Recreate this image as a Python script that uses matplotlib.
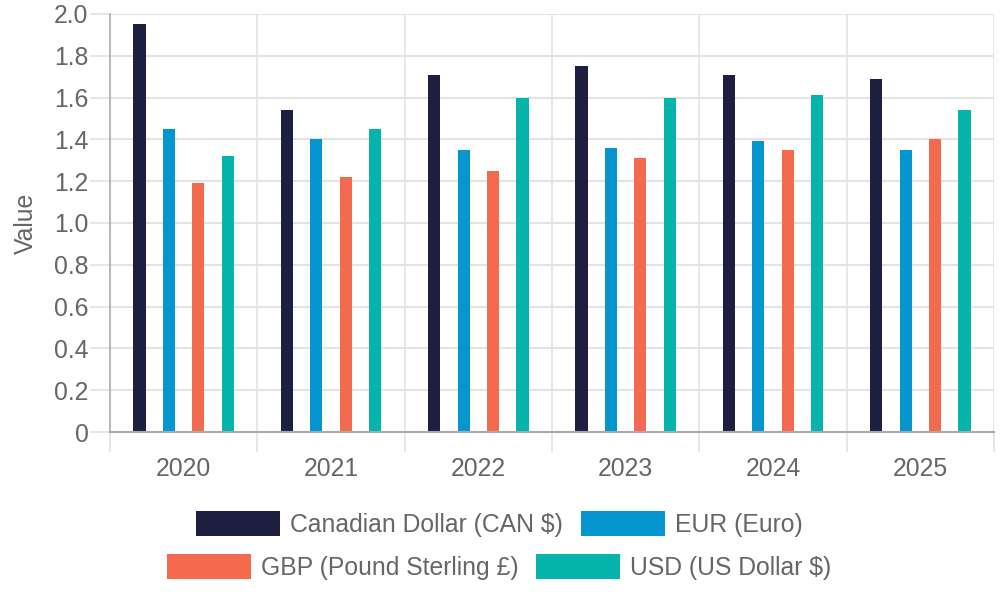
import matplotlib
matplotlib.use("Agg")
import matplotlib.pyplot as plt
import numpy as np
from matplotlib.patches import Patch

years = ["2020", "2021", "2022", "2023", "2024", "2025"]
series_names = ["Canadian Dollar (CAN $)", "EUR (Euro)", "GBP (Pound Sterling £)", "USD (US Dollar $)"]
cad = [1.95, 1.54, 1.71, 1.75, 1.71, 1.69]
eur = [1.45, 1.40, 1.35, 1.36, 1.39, 1.35]
gbp = [1.19, 1.22, 1.25, 1.31, 1.35, 1.40]
usd = [1.32, 1.45, 1.60, 1.60, 1.61, 1.54]
colors = ["#1e1e40", "#0596cf", "#f46a4e", "#05b5ab"]
y_ticks = [0, 0.2, 0.4, 0.6, 0.8, 1.0, 1.2, 1.4, 1.6, 1.8, 2.0]
y_tick_labels = ["0", "0.2", "0.4", "0.6", "0.8", "1.0", "1.2", "1.4", "1.6", "1.8", "2.0"]

plt.rcParams['font.family'] = ['Liberation Sans', 'DejaVu Sans']
text_color = "#666666"
grid_color = "#e3e3e3"
axis_color = "#aaaaaa"
fs = 17.8

fig = plt.figure(figsize=(10, 6), dpi=100)
ax = fig.add_axes([0.110, 0.28, 0.884, 0.6967])

x = np.arange(len(years))
offsets = [-0.3, -0.1, 0.1, 0.3]
bw = 0.082
for vals, off, c, name in zip([cad, eur, gbp, usd], offsets, colors, series_names):
    ax.bar(x + off, vals, width=bw, color=c, zorder=3, label=name)

ax.set_xlim(-0.5, len(years) - 0.5)
ax.set_ylim(0, 2.0)
ax.set_yticks(y_ticks)
ax.set_yticklabels(y_tick_labels)
ax.set_xticks(x)
ax.set_xticklabels(years)
ax.set_xticks(np.arange(-0.5, len(years)), minor=True)

for s in ["top", "right"]:
    ax.spines[s].set_visible(False)
ax.spines["left"].set_color(axis_color)
ax.spines["bottom"].set_color(axis_color)
ax.spines["left"].set_linewidth(1.2)
ax.spines["bottom"].set_linewidth(1.5)
ax.spines["bottom"].set_zorder(4)

for yv in y_ticks[1:]:
    ax.axhline(yv, color=grid_color, lw=1.5, zorder=1)
for xv in np.arange(0.5, len(years)):
    ax.axvline(xv, color=grid_color, lw=1.2, zorder=1)

ax.tick_params(axis="y", length=14.4, width=1.2, color=grid_color, labelsize=fs,
               labelcolor=text_color, pad=1)
ax.tick_params(axis="x", which="major", length=0, labelsize=fs, labelcolor=text_color, pad=18)
ax.tick_params(axis="x", which="minor", length=14.4, width=1.2, color=grid_color)

ax.set_ylabel("Value", fontsize=fs, color=text_color, labelpad=12)

handles = [Patch(facecolor=c) for c in colors]
common = dict(frameon=False, fontsize=fs, handlelength=3.4, handleheight=1.21,
              handletextpad=0.4, columnspacing=0.73, borderaxespad=0, borderpad=0)
leg1 = fig.legend(handles[:2], series_names[:2], ncol=2, loc="center",
                  bbox_to_anchor=(0.499, 1 - 524 / 600), labelcolor=text_color, **common)
leg2 = fig.legend(handles[2:], series_names[2:], ncol=2, loc="center",
                  bbox_to_anchor=(0.499, 1 - 567 / 600), labelcolor=text_color, **common)

fig.savefig("out.png", dpi=100)
